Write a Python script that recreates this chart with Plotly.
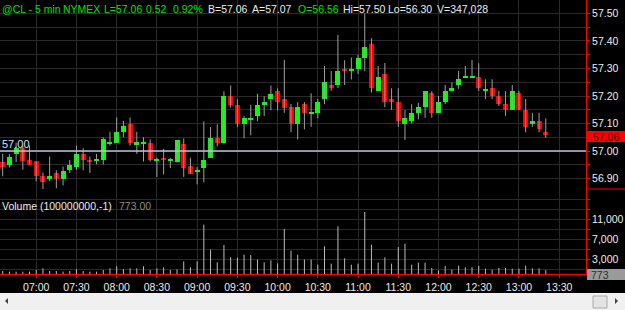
import pandas as pd
import plotly.graph_objects as go

# ---------------- data ----------------
times = pd.date_range("2024-01-02 06:35", periods=82, freq="5min")

opens = [56.960, 56.949, 56.990, 57.010, 56.968, 56.962, 56.908, 56.900, 56.920, 56.898,
         56.930, 56.942, 56.990, 56.969, 56.965, 56.969, 57.028, 57.030, 57.070, 57.100,
         57.023, 57.028, 57.030, 56.965, 56.976, 56.965, 56.960, 57.027, 56.947, 56.925,
         56.938, 56.976, 57.046, 57.028, 57.199, 57.168, 57.097, 57.116, 57.127, 57.168,
         57.188, 57.218, 57.188, 57.159, 57.098, 57.170, 57.136, 57.139, 57.189, 57.240,
         57.240, 57.298, 57.293, 57.300, 57.340, 57.389, 57.219, 57.280, 57.189, 57.179,
         57.098, 57.109, 57.139, 57.159, 57.210, 57.139, 57.179, 57.219, 57.240, 57.266,
         57.266, 57.270, 57.219, 57.230, 57.200, 57.170, 57.149, 57.210, 57.149, 57.098,
         57.109, 57.068]
highs = [56.990, 56.989, 57.030, 57.020, 57.020, 56.962, 56.922, 56.980, 56.930, 56.944,
         56.968, 57.020, 57.010, 56.980, 56.990, 57.050, 57.070, 57.122, 57.110, 57.122,
         57.070, 57.050, 57.042, 56.976, 57.008, 56.975, 57.040, 57.046, 56.976, 56.942,
         57.108, 57.087, 57.097, 57.217, 57.238, 57.188, 57.127, 57.168, 57.208, 57.199,
         57.238, 57.228, 57.331, 57.171, 57.178, 57.178, 57.210, 57.189, 57.309, 57.291,
         57.422, 57.330, 57.340, 57.350, 57.500, 57.410, 57.309, 57.320, 57.228, 57.228,
         57.149, 57.170, 57.175, 57.218, 57.218, 57.200, 57.240, 57.250, 57.291, 57.309,
         57.331, 57.319, 57.261, 57.261, 57.218, 57.218, 57.240, 57.218, 57.189, 57.139,
         57.139, 57.119]
lows = [56.908, 56.940, 56.960, 56.932, 56.950, 56.890, 56.862, 56.890, 56.865, 56.875,
        56.920, 56.931, 56.930, 56.920, 56.952, 56.951, 57.020, 57.030, 57.050, 57.020,
        56.990, 56.962, 56.962, 56.906, 56.915, 56.938, 56.958, 56.906, 56.918, 56.879,
        56.886, 56.976, 57.017, 57.028, 57.158, 57.087, 57.046, 57.057, 57.108, 57.127,
        57.148, 57.148, 57.139, 57.068, 57.042, 57.079, 57.088, 57.120, 57.170, 57.219,
        57.229, 57.240, 57.260, 57.280, 57.290, 57.212, 57.219, 57.159, 57.149, 57.088,
        57.040, 57.100, 57.115, 57.121, 57.121, 57.139, 57.170, 57.219, 57.226, 57.266,
        57.266, 57.218, 57.189, 57.189, 57.164, 57.128, 57.149, 57.149, 57.068, 57.088,
        57.068, 57.048]
closes = [56.943, 56.977, 57.010, 56.963, 56.951, 56.910, 56.889, 56.910, 56.898, 56.929,
          56.951, 56.990, 56.969, 56.962, 56.968, 57.042, 57.032, 57.070, 57.090, 57.030,
          57.032, 57.031, 56.968, 56.968, 56.966, 56.967, 57.039, 56.938, 56.918, 56.927,
          56.966, 57.046, 57.028, 57.199, 57.168, 57.097, 57.119, 57.119, 57.168, 57.178,
          57.208, 57.178, 57.158, 57.098, 57.159, 57.139, 57.139, 57.179, 57.250, 57.230,
          57.291, 57.292, 57.297, 57.339, 57.378, 57.230, 57.270, 57.179, 57.179, 57.110,
          57.119, 57.137, 57.159, 57.218, 57.139, 57.177, 57.218, 57.229, 57.261, 57.270,
          57.270, 57.230, 57.226, 57.200, 57.170, 57.149, 57.218, 57.149, 57.088, 57.109,
          57.080, 57.058]
volumes = [600, 470, 470, 470, 470, 800, 1130, 600, 600, 470,
           600, 930, 600, 470, 470, 800, 1130, 1530, 1000, 1130,
           1130, 1530, 800, 1130, 1330, 800, 930, 2530, 1330, 2530,
           9870, 4870, 2330, 5800, 3330, 3270, 3870, 3800, 2870, 2330,
           2730, 2130, 9000, 4670, 3870, 2900, 2900, 1870, 5530, 2070,
           9530, 3130, 1870, 2070, 12400, 5870, 2270, 3330, 2070, 5400,
           6070, 1870, 2270, 2270, 1200, 730, 1600, 870, 1670, 1330,
           1330, 1600, 1070, 870, 1200, 1200, 1070, 1070, 1670, 1130,
           1130, 773]

REF_LEVEL = 57.00
header_texts = ["@CL - 5 min", "NYMEX", "L=57.06", "0.52", "0.92%", "B=57.06",
                "A=57.07", "O=56.56", "Hi=57.50", "Lo=56.30", "V=347,028"]
volume_title = "Volume (100000000,-1)"
vol_tick_vals = [3000, 7000, 11000]
vol_minor_vals = [1000, 5000, 9000, 13000, 15000]

# ---------------- layout constants ----------------
W, H = 625, 310
ML, MR, MT, MB = 0, 39, 0, 36
PW, PH = W - ML - MR, H - MT - MB
SPLIT_PX = 189                      # price / volume boundary
VOL_TOP = (PH - SPLIT_PX) / PH
X_RANGE = ["2024-01-02 06:32:59", "2024-01-02 13:50:00"]
P_RANGE = [56.862, 57.549]
V_RANGE = [0, 17000]
FONT = "Liberation Sans, Arial, sans-serif"
FS = 10.5
GRID = "#2a2a2a"
UP, DN = "#00ff00", "#ff0000"
WHITE = "#ececec"
GREEN_TXT = "#00e400"

range_ms = (pd.Timestamp(X_RANGE[1]) - pd.Timestamp(X_RANGE[0])).total_seconds() * 1000
body_w = 5 * range_ms / PW
min_body = 0.004


def px_x(x):
    return x / PW


def px_y(y):
    return (PH - y) / PH


def price_to_px(p):
    return SPLIT_PX * (P_RANGE[1] - p) / (P_RANGE[1] - P_RANGE[0])


fig = go.Figure()

# wicks
wx, wy = [], []
for t, lo, hi in zip(times, lows, highs):
    wx += [t, t, None]
    wy += [lo, hi, None]
fig.add_trace(go.Scatter(x=wx, y=wy, mode="lines", line=dict(color="#a0a0a0", width=1),
                         yaxis="y", hoverinfo="skip"))

# bodies
bases = [min(o, c) for o, c in zip(opens, closes)]
heights = [max(abs(c - o), min_body) for o, c in zip(opens, closes)]
colors = [UP if c >= o else DN for o, c in zip(opens, closes)]
fig.add_trace(go.Bar(x=times, y=heights, base=bases, width=body_w,
                     marker=dict(color=colors, line=dict(width=0)), yaxis="y",
                     hoverinfo="skip"))

# volume
vx, vy = [], []
for t, v in zip(times, volumes):
    vx += [t, t, None]
    vy += [0, v, None]
fig.add_trace(go.Scatter(x=vx, y=vy, mode="lines", line=dict(color="#bcbcbc", width=1),
                         yaxis="y2", hoverinfo="skip"))

axis_font = dict(family=FONT, size=FS, color=WHITE)

fig.update_layout(
    width=W, height=H, margin=dict(l=ML, r=MR, t=MT, b=MB, pad=0),
    paper_bgcolor="black", plot_bgcolor="black", showlegend=False, hovermode=False,
    bargap=0,
    xaxis=dict(type="date", range=X_RANGE, anchor="y2", tickformat="%H:%M",
               tick0="2024-01-02 07:00", dtick=30 * 60 * 1000,
               ticks="outside", ticklen=3, tickcolor="red", tickwidth=1,
               showline=True, linecolor="red", linewidth=1,
               showgrid=True, gridcolor=GRID, gridwidth=1, zeroline=False,
               tickfont=axis_font, fixedrange=True),
    yaxis=dict(domain=[VOL_TOP, 1], range=P_RANGE, side="right", anchor="x",
               tick0=57.0, dtick=0.1, tickformat=".2f",
               ticks="outside", ticklen=3, tickcolor="red",
               showline=True, linecolor="red", linewidth=1,
               showgrid=True, gridcolor=GRID, zeroline=False,
               minor=dict(tick0=57.0, dtick=0.05, ticks="outside", ticklen=3,
                          tickcolor="red", showgrid=True, gridcolor=GRID),
               tickfont=axis_font, fixedrange=True),
    yaxis2=dict(domain=[0, VOL_TOP], range=V_RANGE, side="right", anchor="x",
                tickmode="array", tickvals=vol_tick_vals,
                ticktext=[f"{v:,}" for v in vol_tick_vals],
                ticks="outside", ticklen=3, tickcolor="red",
                showline=True, linecolor="red", linewidth=1,
                showgrid=True, gridcolor=GRID, zeroline=False,
                minor=dict(tickmode="array", tickvals=vol_minor_vals, ticks="outside",
                           ticklen=3, tickcolor="red", showgrid=True, gridcolor=GRID),
                tickfont=axis_font, fixedrange=True),
)

shapes = []
# reference level line
shapes.append(dict(type="line", xref="paper", yref="y", x0=0, x1=1, y0=REF_LEVEL, y1=REF_LEVEL,
                   line=dict(color="#b4c4dc", width=1.5), layer="above"))
# red separator on the axis column
shapes.append(dict(type="line", xref="paper", yref="paper", x0=1, x1=px_x(W), y0=VOL_TOP, y1=VOL_TOP,
                   line=dict(color="red", width=1)))
# last price box
pc = price_to_px(closes[-1]) + 1.5
shapes.append(dict(type="rect", xref="paper", yref="paper", x0=px_x(PW + 1), x1=px_x(W),
                   y0=px_y(pc + 5.5), y1=px_y(pc - 5.5), fillcolor="#ff0000", line=dict(width=0)))
# last volume box
shapes.append(dict(type="rect", xref="paper", yref="paper", x0=px_x(PW + 1), x1=px_x(W),
                   y0=px_y(280), y1=px_y(269), fillcolor="#9a9a9a", line=dict(width=0)))
# scrollbar
shapes.append(dict(type="rect", xref="paper", yref="paper", x0=px_x(0), x1=px_x(W),
                   y0=px_y(H), y1=px_y(293), fillcolor="#f0f0f0", line=dict(width=0)))
shapes.append(dict(type="rect", xref="paper", yref="paper", x0=px_x(593), x1=px_x(607),
                   y0=px_y(308), y1=px_y(296), fillcolor="#e4e4e4",
                   line=dict(color="#a8a8a8", width=1)))
shapes.append(dict(type="path", xref="paper", yref="paper",
                   path=f"M {px_x(8)},{px_y(298)} L {px_x(5)},{px_y(301)} L {px_x(8)},{px_y(304)} Z",
                   fillcolor="#404040", line=dict(width=0)))
shapes.append(dict(type="path", xref="paper", yref="paper",
                   path=f"M {px_x(615)},{px_y(298)} L {px_x(618)},{px_y(301)} L {px_x(615)},{px_y(304)} Z",
                   fillcolor="#404040", line=dict(width=0)))
fig.update_layout(shapes=shapes)

ann = []
header_x = [1.7, 63, 104, 146, 173, 208, 252, 298, 343, 388, 437]
header_c = [GREEN_TXT] * 5 + [WHITE, WHITE, GREEN_TXT, WHITE, WHITE, WHITE]
for txt, x, c in zip(header_texts, header_x, header_c):
    ann.append(dict(text=txt, x=px_x(x), y=px_y(8.5), xref="paper", yref="paper",
                    xanchor="left", yanchor="middle", showarrow=False,
                    font=dict(family=FONT, size=FS, color=c), borderpad=0, borderwidth=0))
ann.append(dict(text=volume_title, x=px_x(1.7), y=px_y(206), xref="paper", yref="paper",
                xanchor="left", yanchor="middle", showarrow=False,
                font=dict(family=FONT, size=FS, color=WHITE), borderpad=0, borderwidth=0))
ann.append(dict(text=f"{volumes[-1]:.2f}", x=px_x(119), y=px_y(206), xref="paper", yref="paper",
                xanchor="left", yanchor="middle", showarrow=False,
                font=dict(family=FONT, size=FS, color="#8c8c8c"), borderpad=0, borderwidth=0))
ann.append(dict(text=f"{REF_LEVEL:.2f}", x=px_x(1.7), y=px_y(price_to_px(REF_LEVEL) - 7.5),
                xref="paper", yref="paper", xanchor="left", yanchor="middle", showarrow=False,
                font=dict(family=FONT, size=FS + 0.5, color="#cfe0ff"), borderpad=0, borderwidth=0))
ann.append(dict(text=f"{closes[-1]:.2f}", x=px_x(593), y=px_y(pc), xref="paper", yref="paper",
                xanchor="left", yanchor="middle", showarrow=False,
                font=dict(family=FONT, size=FS, color="#5a0000"), borderpad=0, borderwidth=0))
ann.append(dict(text=f"{volumes[-1]:,}", x=px_x(591), y=px_y(274.5), xref="paper", yref="paper",
                xanchor="left", yanchor="middle", showarrow=False,
                font=dict(family=FONT, size=FS, color="#303030"), borderpad=0, borderwidth=0))
fig.update_layout(annotations=ann)

fig.write_html("out.html")
